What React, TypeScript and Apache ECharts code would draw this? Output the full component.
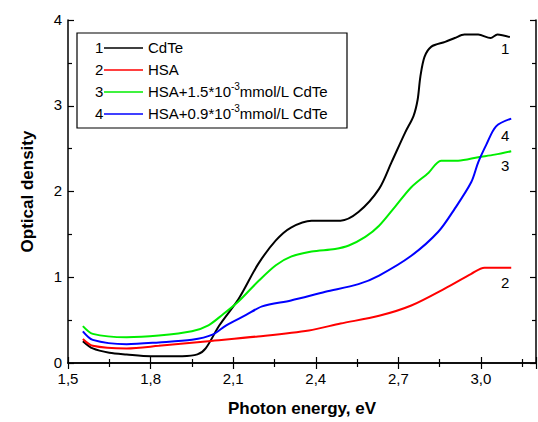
import React, { useEffect, useRef } from "react";
import * as echarts from "echarts";

const xCdTe = [1.554, 1.59, 1.65, 1.713, 1.8, 1.915, 1.97, 2.0, 2.05, 2.12, 2.19, 2.255, 2.31, 2.385, 2.49, 2.555, 2.63, 2.675, 2.725, 2.755, 2.77, 2.78, 2.795, 2.82, 2.87, 2.905, 2.94, 2.99, 3.035, 3.06, 3.105];
const yCdTe = [0.255, 0.17, 0.12, 0.1, 0.08, 0.08, 0.1, 0.17, 0.44, 0.75, 1.15, 1.43, 1.58, 1.66, 1.66, 1.76, 2.03, 2.34, 2.69, 2.88, 3.07, 3.34, 3.57, 3.69, 3.745, 3.79, 3.83, 3.83, 3.79, 3.83, 3.8];

const xHSA = [1.554, 1.59, 1.713, 1.83, 2.01, 2.19, 2.375, 2.49, 2.63, 2.747, 2.87, 2.965, 3.013, 3.05, 3.11];
const yHSA = [0.28, 0.2, 0.17, 0.2, 0.255, 0.31, 0.38, 0.46, 0.55, 0.67, 0.87, 1.04, 1.11, 1.11, 1.11];

const xHigh = [1.554, 1.59, 1.713, 1.83, 1.95, 2.01, 2.06, 2.12, 2.19, 2.255, 2.31, 2.385, 2.47, 2.52, 2.58, 2.63, 2.69, 2.747, 2.81, 2.855, 2.917, 2.99, 3.05, 3.11];
const yHigh = [0.43, 0.34, 0.3, 0.32, 0.37, 0.44, 0.56, 0.72, 0.95, 1.14, 1.24, 1.3, 1.33, 1.37, 1.47, 1.6, 1.83, 2.05, 2.22, 2.36, 2.36, 2.4, 2.43, 2.47];

const xLow = [1.554, 1.59, 1.713, 1.83, 1.95, 2.025, 2.075, 2.147, 2.205, 2.31, 2.435, 2.555, 2.63, 2.747, 2.845, 2.905, 2.965, 2.99, 3.02, 3.055, 3.11];
const yLow = [0.37, 0.27, 0.22, 0.24, 0.27, 0.33, 0.44, 0.56, 0.66, 0.73, 0.83, 0.92, 1.02, 1.25, 1.53, 1.8, 2.11, 2.34, 2.55, 2.76, 2.85];

const seriesNames = ["CdTe", "HSA", "HSA+1.5*10{sup|-3}mmol/L CdTe", "HSA+0.9*10{sup|-3}mmol/L CdTe"];
const seriesNums = ["1", "2", "3", "4"];
const colors = ["#000000", "#ff0000", "#00ee00", "#0000ff"];
const xLabel = "Photon energy, eV";
const yLabel = "Optical density";

const zip = (xs: number[], ys: number[]) => xs.map((x, i) => [x, ys[i]]);

export default function App() {
  const ref = useRef<HTMLDivElement>(null);
  useEffect(() => {
    const chart = echarts.init(ref.current!, null, { renderer: "svg" });
    const font = "Liberation Sans";
    const datas = [zip(xCdTe, yCdTe), zip(xHSA, yHSA), zip(xHigh, yHigh), zip(xLow, yLow)];
    const axisLine = { lineStyle: { color: "#000", width: 1.5 } };
    const tick = { inside: true, length: 6, lineStyle: { color: "#000", width: 1.2 } };
    const minor = { show: true, splitNumber: 2, length: 4, lineStyle: { color: "#000", width: 1.2 } };
    const legendItems: any[] = [];
    const rowY = [47, 69, 91, 113];
    seriesNames.forEach((n, i) => {
      legendItems.push({
        type: "text", x: 95, y: rowY[i], style: { text: seriesNums[i], fontFamily: font, fontSize: 15, fill: "#000", verticalAlign: "middle" },
      });
      legendItems.push({
        type: "line", shape: { x1: 104, y1: rowY[i] + 1, x2: 143, y2: rowY[i] + 1 }, style: { stroke: colors[i], lineWidth: 1.5 },
      });
      legendItems.push({
        type: "text", x: 148, y: rowY[i], style: {
          text: n, fill: "#000", fontFamily: font, fontSize: 15, verticalAlign: "middle",
          rich: { sup: { fontSize: 10, fontFamily: font, fill: "#000", padding: [0, 0, 9, 0] } },
        },
      });
    });
    const curveLabels = [
      { t: "1", x: 501, y: 48 }, { t: "2", x: 501, y: 282 }, { t: "3", x: 501, y: 165 }, { t: "4", x: 501, y: 135 },
    ];
    chart.setOption({
      animation: false,
      grid: { left: 68, right: 2, top: 20, bottom: 57 },
      xAxis: [
        {
          type: "value", min: 1.5, max: 3.2, interval: 0.3,
          axisLine, axisTick: tick, minorTick: minor, splitLine: { show: false },
          axisLabel: { showMaxLabel: false, color: "#000", fontSize: 15, fontFamily: font, margin: 8,
            formatter: (v: number) => v.toFixed(1).replace(".", ",") },
          name: xLabel, nameLocation: "middle", nameGap: 37,
          nameTextStyle: { color: "#000", fontSize: 17, fontWeight: "bold", fontFamily: font },
        },
        {
          type: "value", position: "top", min: 1.5, max: 3.2, interval: 0.3,
          axisLine, axisTick: tick, minorTick: minor, splitLine: { show: false }, axisLabel: { show: false },
        },
      ],
      yAxis: [
        {
          type: "value", min: 0, max: 4, interval: 1,
          axisLine, axisTick: tick, minorTick: minor, splitLine: { show: false },
          axisLabel: { color: "#000", fontSize: 15, fontFamily: font, margin: 6, verticalAlign: "bottom", lineHeight: 16, padding: [0, 0, -7, 0] },
          name: yLabel, nameLocation: "middle", nameGap: 32, nameRotate: 90,
          nameTextStyle: { color: "#000", fontSize: 17, fontWeight: "bold", fontFamily: font },
        },
        {
          type: "value", position: "right", min: 0, max: 4, interval: 1,
          axisLine, axisTick: tick, minorTick: minor, splitLine: { show: false }, axisLabel: { show: false },
        },
      ],
      series: datas.map((d, i) => ({
        type: "line", name: seriesNames[i], data: d, showSymbol: false, smooth: 0.3,
        lineStyle: { color: colors[i], width: 2 }, itemStyle: { color: colors[i] },
      })),
      graphic: [
        { type: "rect", shape: { x: 77, y: 33, width: 270, height: 95 }, style: { fill: "#fff", stroke: "#000", lineWidth: 1.2 }, z: 100 },
        ...legendItems.map((e) => ({ ...e, z: 101 })),
        ...curveLabels.map((c) => ({ type: "text", x: c.x, y: c.y, z: 101, style: { text: c.t, fontFamily: font, fontSize: 15, fill: "#000", verticalAlign: "middle" } })),
      ],
    });
    return () => chart.dispose();
  }, []);
  return <div ref={ref} style={{ width: 538, height: 422, position: "absolute", left: 0, top: 0 }} />;
}
